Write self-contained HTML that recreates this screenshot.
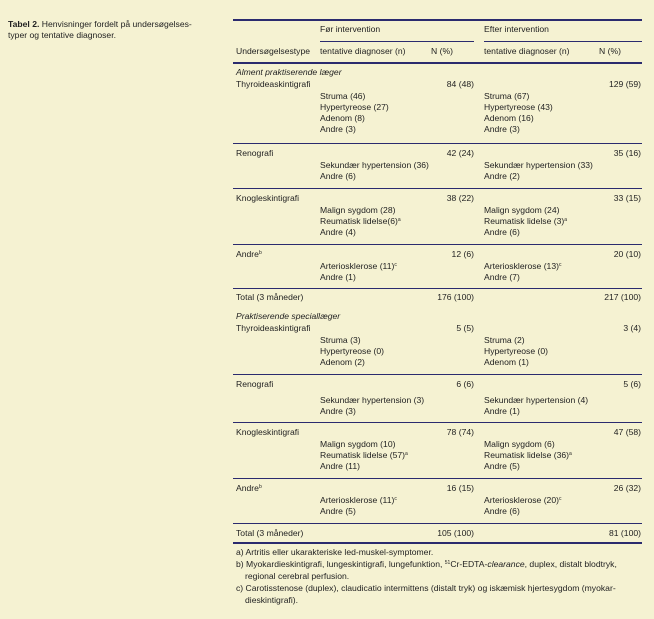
<!DOCTYPE html>
<html><head><meta charset="utf-8"><style>
body{margin:0;width:654px;height:619px;background:#f5f2d2;position:relative;overflow:hidden;font-family:"Liberation Sans",sans-serif;font-size:8.6px;color:#222;}
.t{position:absolute;line-height:11px;white-space:nowrap;}
.r{position:absolute;line-height:11px;white-space:nowrap;text-align:right;}
.l{position:absolute;height:1px;background:#2b2b6e;}
.L{position:absolute;height:2px;background:#2b2b6e;}
i{font-style:italic}
sup{font-size:5px;vertical-align:baseline;position:relative;top:-3px;line-height:0}
</style></head><body>
<div class="t" style="left:8px;top:19px"><b>Tabel 2.</b> Henvisninger fordelt på undersøgelses-</div>
<div class="t" style="left:8px;top:30px">typer og tentative diagnoser.</div>

<div class="L" style="left:233px;top:19px;width:409px"></div>
<div class="t" style="left:320px;top:24px">Før intervention</div>
<div class="t" style="left:484px;top:24px">Efter intervention</div>
<div class="l" style="left:320px;top:41px;width:154px"></div>
<div class="l" style="left:484px;top:41px;width:158px"></div>
<div class="t" style="left:236px;top:46px">Undersøgelsestype</div>
<div class="t" style="left:320px;top:46px">tentative diagnoser (n)</div>
<div class="t" style="left:431px;top:46px">N (%)</div>
<div class="t" style="left:484px;top:46px">tentative diagnoser (n)</div>
<div class="t" style="left:599px;top:46px">N (%)</div>
<div class="L" style="left:233px;top:62px;width:409px"></div>

<div class="t" style="left:236px;top:67px"><i>Alment praktiserende læger</i></div>
<div class="t" style="left:236px;top:79px">Thyroideaskintigrafi</div>
<div class="r" style="right:180px;top:79px">84 (48)</div>
<div class="r" style="right:13px;top:79px">129 (59)</div>
<div class="t" style="left:320px;top:91px">Struma (46)<br>Hypertyreose (27)<br>Adenom (8)<br>Andre (3)</div>
<div class="t" style="left:484px;top:91px">Struma (67)<br>Hypertyreose (43)<br>Adenom (16)<br>Andre (3)</div>
<div class="l" style="left:233px;top:143px;width:409px"></div>

<div class="t" style="left:236px;top:148px">Renografi</div>
<div class="r" style="right:180px;top:148px">42 (24)</div>
<div class="r" style="right:13px;top:148px">35 (16)</div>
<div class="t" style="left:320px;top:160px">Sekundær hypertension (36)<br>Andre (6)</div>
<div class="t" style="left:484px;top:160px">Sekundær hypertension (33)<br>Andre (2)</div>
<div class="l" style="left:233px;top:188px;width:409px"></div>

<div class="t" style="left:236px;top:193px">Knogleskintigrafi</div>
<div class="r" style="right:180px;top:193px">38 (22)</div>
<div class="r" style="right:13px;top:193px">33 (15)</div>
<div class="t" style="left:320px;top:205px">Malign sygdom (28)<br>Reumatisk lidelse(6)<sup>a</sup><br>Andre (4)</div>
<div class="t" style="left:484px;top:205px">Malign sygdom (24)<br>Reumatisk lidelse (3)<sup>a</sup><br>Andre (6)</div>
<div class="l" style="left:233px;top:244px;width:409px"></div>

<div class="t" style="left:236px;top:249px">Andre<sup>b</sup></div>
<div class="r" style="right:180px;top:249px">12 (6)</div>
<div class="r" style="right:13px;top:249px">20 (10)</div>
<div class="t" style="left:320px;top:261px">Arteriosklerose (11)<sup>c</sup><br>Andre (1)</div>
<div class="t" style="left:484px;top:261px">Arteriosklerose (13)<sup>c</sup><br>Andre (7)</div>
<div class="l" style="left:233px;top:288px;width:409px"></div>

<div class="t" style="left:236px;top:292px">Total (3 måneder)</div>
<div class="r" style="right:180px;top:292px">176 (100)</div>
<div class="r" style="right:13px;top:292px">217 (100)</div>

<div class="t" style="left:236px;top:311px"><i>Praktiserende speciallæger</i></div>
<div class="t" style="left:236px;top:323px">Thyroideaskintigrafi</div>
<div class="r" style="right:180px;top:323px">5 (5)</div>
<div class="r" style="right:13px;top:323px">3 (4)</div>
<div class="t" style="left:320px;top:335px">Struma (3)<br>Hypertyreose (0)<br>Adenom (2)</div>
<div class="t" style="left:484px;top:335px">Struma (2)<br>Hypertyreose (0)<br>Adenom (1)</div>
<div class="l" style="left:233px;top:374px;width:409px"></div>

<div class="t" style="left:236px;top:379px">Renografi</div>
<div class="r" style="right:180px;top:379px">6 (6)</div>
<div class="r" style="right:13px;top:379px">5 (6)</div>
<div class="t" style="left:320px;top:395px">Sekundær hypertension (3)<br>Andre (3)</div>
<div class="t" style="left:484px;top:395px">Sekundær hypertension (4)<br>Andre (1)</div>
<div class="l" style="left:233px;top:422px;width:409px"></div>

<div class="t" style="left:236px;top:427px">Knogleskintigrafi</div>
<div class="r" style="right:180px;top:427px">78 (74)</div>
<div class="r" style="right:13px;top:427px">47 (58)</div>
<div class="t" style="left:320px;top:439px">Malign sygdom (10)<br>Reumatisk lidelse (57)<sup>a</sup><br>Andre (11)</div>
<div class="t" style="left:484px;top:439px">Malign sygdom (6)<br>Reumatisk lidelse (36)<sup>a</sup><br>Andre (5)</div>
<div class="l" style="left:233px;top:478px;width:409px"></div>

<div class="t" style="left:236px;top:483px">Andre<sup>b</sup></div>
<div class="r" style="right:180px;top:483px">16 (15)</div>
<div class="r" style="right:13px;top:483px">26 (32)</div>
<div class="t" style="left:320px;top:495px">Arteriosklerose (11)<sup>c</sup><br>Andre (5)</div>
<div class="t" style="left:484px;top:495px">Arteriosklerose (20)<sup>c</sup><br>Andre (6)</div>
<div class="l" style="left:233px;top:523px;width:409px"></div>

<div class="t" style="left:236px;top:528px">Total (3 måneder)</div>
<div class="r" style="right:180px;top:528px">105 (100)</div>
<div class="r" style="right:13px;top:528px">81 (100)</div>
<div class="L" style="left:233px;top:542px;width:409px"></div>

<div class="t" style="left:236px;top:547px">a) Artritis eller ukarakteriske led-muskel-symptomer.</div>
<div class="t" style="left:236px;top:559px">b) Myokardieskintigrafi, lungeskintigrafi, lungefunktion, <sup>51</sup>Cr-EDTA-<i>clearance</i>, duplex, distalt blodtryk,</div>
<div class="t" style="left:245px;top:571px">regional cerebral perfusion.</div>
<div class="t" style="left:236px;top:583px">c) Carotisstenose (duplex), claudicatio intermittens (distalt tryk) og iskæmisk hjertesygdom (myokar-</div>
<div class="t" style="left:245px;top:595px">dieskintigrafi).</div>
</body></html>
